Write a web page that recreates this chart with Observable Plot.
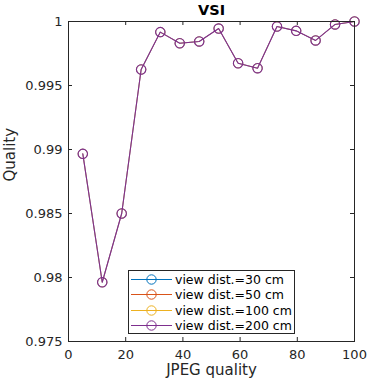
<!DOCTYPE html>
<html>
<head>
<meta charset="utf-8">
<script src="https://cdn.jsdelivr.net/npm/d3@7"></script>
<script src="https://cdn.jsdelivr.net/npm/@observablehq/plot@0.6"></script>
<style>
  html, body { margin: 0; padding: 0; background: #fff; }
  #wrap { position: relative; width: 369px; height: 387px; font-family: "DejaVu Sans", sans-serif; }
  #legend { position: absolute; left: 128px; top: 270px; width: 165px; height: 62px; border: 1px solid #262626; background: #fff; }
  .row { position: absolute; left: 0; height: 15px; display: flex; align-items: center; font-size: 12.5px; color: #000; white-space: nowrap; }
  .row svg { display: block; margin-left: 2px; margin-right: 3px; }
</style>
</head>
<body>
<div id="wrap"></div>
<script>
const title = "VSI";
const xLabel = "JPEG quality";
const yLabel = "Quality";
const xTicks = [0, 20, 40, 60, 80, 100];
const yTicks = [0.975, 0.98, 0.985, 0.99, 0.995, 1];
const yTickLabels = ["0.975", "0.98", "0.985", "0.99", "0.995", "1"];
const jpegQuality = [5, 11.8, 18.6, 25.4, 32.1, 38.9, 45.7, 52.5, 59.3, 66.1, 72.9, 79.6, 86.4, 93.2, 100];
const seriesNames = ["view dist.=30 cm", "view dist.=50 cm", "view dist.=100 cm", "view dist.=200 cm"];
const seriesColors = ["#0072BD", "#D95319", "#EDB120", "#7E2F8E"];
const vsi30  = [0.98966, 0.97963, 0.98500, 0.99625, 0.99917, 0.99830, 0.99844, 0.99945, 0.99674, 0.99635, 0.99961, 0.99927, 0.99852, 0.99977, 1.00000];
const vsi50  = [0.98966, 0.97963, 0.98500, 0.99625, 0.99917, 0.99830, 0.99844, 0.99945, 0.99674, 0.99635, 0.99961, 0.99927, 0.99852, 0.99977, 1.00000];
const vsi100 = [0.98966, 0.97963, 0.98500, 0.99625, 0.99917, 0.99830, 0.99844, 0.99945, 0.99674, 0.99635, 0.99961, 0.99927, 0.99852, 0.99977, 1.00000];
const vsi200 = [0.98966, 0.97963, 0.98500, 0.99625, 0.99917, 0.99830, 0.99844, 0.99945, 0.99674, 0.99635, 0.99961, 0.99927, 0.99852, 0.99977, 1.00000];

const allSeries = [vsi30, vsi50, vsi100, vsi200];
const data = [];
allSeries.forEach((vals, si) => vals.forEach((v, i) => data.push({series: seriesNames[si], x: jpegQuality[i], y: v})));
const lastName = seriesNames[seriesNames.length - 1];
const underData = data.filter(d => d.series !== lastName);
const topData = data.filter(d => d.series === lastName);

const W = 369, H = 387, mL = 68, mR = 15, mT = 21, mB = 46;
const innerW = W - mL - mR, innerH = H - mT - mB;
const tickLen = 4;

const chart = Plot.plot({
  width: W, height: H,
  marginLeft: mL, marginRight: mR, marginTop: mT, marginBottom: mB,
  style: { fontFamily: "DejaVu Sans, sans-serif", fontSize: "13px", color: "#262626", background: "#fff" },
  x: { domain: [0, 100] },
  y: { domain: [0.975, 1] },
  color: { domain: seriesNames, range: seriesColors },
  marks: [
    Plot.axisX({ ticks: xTicks, tickSize: 0, tickPadding: 8, label: null, tickFormat: d => String(d), fill: "#262626" }),
    Plot.axisY({ ticks: yTicks, tickSize: 0, tickPadding: 6, label: null, tickFormat: (d, i) => yTickLabels[i], fill: "#262626" }),
    Plot.ruleX(xTicks, { x: d => d, insetTop: innerH - tickLen, stroke: "#262626" }),
    Plot.ruleX(xTicks, { x: d => d, insetBottom: innerH - tickLen, stroke: "#262626" }),
    Plot.ruleY(yTicks, { y: d => d, insetRight: innerW - tickLen, stroke: "#262626" }),
    Plot.ruleY(yTicks, { y: d => d, insetLeft: innerW - tickLen, stroke: "#262626" }),
    Plot.line(underData, { x: "x", y: "y", z: "series", stroke: "series", strokeWidth: 0.4 }),
    Plot.dot(underData, { x: "x", y: "y", stroke: "series", r: 4.7, strokeWidth: 0.4, fill: "none" }),
    Plot.line(topData, { x: "x", y: "y", stroke: "series", strokeWidth: 1.1 }),
    Plot.dot(topData, { x: "x", y: "y", stroke: "series", r: 4.7, strokeWidth: 1.1, fill: "none" }),
    Plot.frame({ stroke: "#262626" }),
    Plot.text([title], { frameAnchor: "top", lineAnchor: "middle", dy: -11, fontWeight: "bold", fontSize: 14.5, fill: "#000" }),
    Plot.text([xLabel], { frameAnchor: "bottom", lineAnchor: "middle", dy: 29, fontSize: 15, fill: "#262626" }),
    Plot.text([yLabel], { frameAnchor: "left", dx: -58, rotate: -90, fontSize: 15, fill: "#262626" })
  ]
});

const wrap = document.getElementById("wrap");
wrap.appendChild(chart);

const legend = document.createElement("div");
legend.id = "legend";
seriesNames.forEach((name, i) => {
  const row = document.createElement("div");
  row.className = "row";
  row.style.top = (1 + i * 15.3) + "px";
  row.innerHTML = `<svg width="41" height="15"><line x1="0" x2="41" y1="7.5" y2="7.5" stroke="${seriesColors[i]}" stroke-width="1"/><circle cx="20.5" cy="7.5" r="4.7" fill="none" stroke="${seriesColors[i]}" stroke-width="1"/></svg><span>${name}</span>`;
  legend.appendChild(row);
});
wrap.appendChild(legend);
</script>
</body>
</html>
